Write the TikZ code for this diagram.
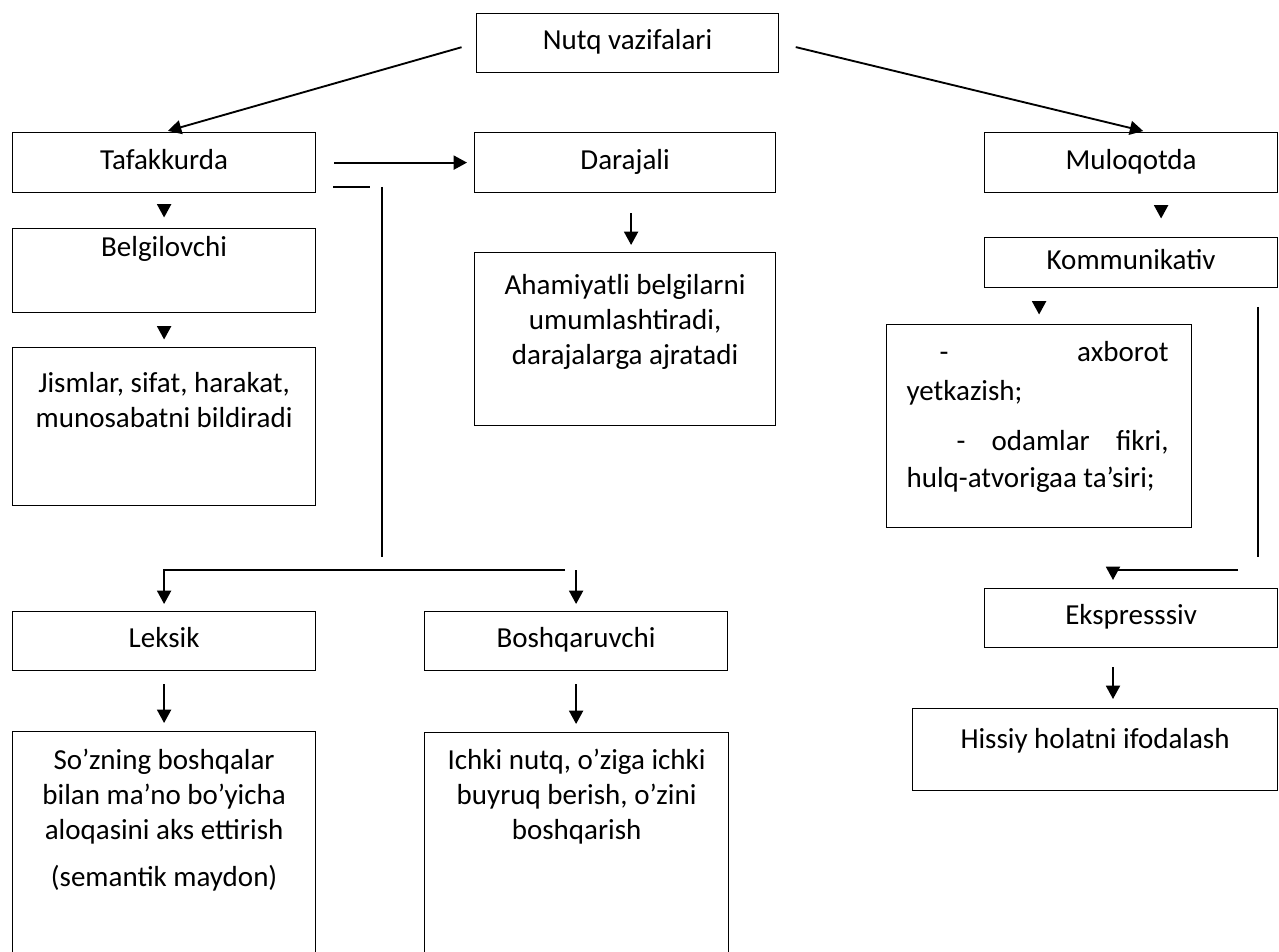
\documentclass[tikz,border=0pt]{standalone}
\usepackage{fontspec}
\setmainfont{Carlito}
\usetikzlibrary{arrows.meta}
\usetikzlibrary{positioning}
\newlength{\pxu}
\setlength{\pxu}{0.75pt}
\newcommand{\topbox}[4]{\parbox[c][#2\pxu][t]{#1\pxu}{\centering\vspace*{#3\pxu}\strut #4\par}}
\tikzset{
  box/.style={draw, line width=0.9pt, inner sep=0pt, anchor=north west},
  sbox/.style={box, text height=15pt, text depth=5pt},
  ln/.style={line width=1.4pt},
  arr/.style={ln, -{Triangle[width=10.5pt,length=10pt]}}
}

\begin{document}
\begin{tikzpicture}[x=0.75pt, y=-0.75pt, font=\fontsize{21.75}{26.25}\selectfont]
\clip (0,0) rectangle (1279,952);
\fill[white] (0,0) rectangle (1279,952);
\node[sbox, minimum width=302\pxu, minimum height=59\pxu] (nutq) at (476,13) {Nutq vazifalari};
\node[sbox, minimum width=303\pxu, minimum height=60\pxu] (taf) at (12,132) {Tafakkurda};
\node[sbox, minimum width=301\pxu, minimum height=60\pxu] (dar) at (474,132) {Darajali};
\node[sbox, minimum width=293\pxu, minimum height=60\pxu] (mul) at (984,132) {Muloqotda};
\node[sbox, minimum width=293\pxu, minimum height=50\pxu] (komm) at (984,237) {Kommunikativ};
\node[sbox, minimum width=293\pxu, minimum height=59\pxu] (eksp) at (984,588) {Ekspresssiv};
\node[sbox, minimum width=303\pxu, minimum height=59\pxu] (leks) at (12,611) {Leksik};
\node[sbox, minimum width=303\pxu, minimum height=59\pxu] (bosh) at (424,611) {Boshqaruvchi};
\node[box] (belg) at (12,228) {\topbox{303}{84}{3}{Belgilovchi}};
\node[box] (jism) at (12,347) {\topbox{303}{158}{20}{Jismlar, sifat, harakat,\\ munosabatni bildiradi}};
\node[box] (aham) at (474,252) {\topbox{301}{173}{17}{Ahamiyatli belgilarni\\ umumlashtiradi,\\ darajalarga ajratadi}};
\node[box] (hiss) at (912,708) {\topbox{365}{82}{15}{Hissiy holatni ifodalash}};
\node[box] (soz) at (12,731) {\topbox{303}{240}{13.5}{So’zning boshqalar\\ bilan ma’no bo’yicha\\ aloqasini aks ettirish\\[12\pxu] (semantik maydon)}};
\node[box] (ichki) at (424,732) {\topbox{304}{240}{12.5}{Ichki nutq, o’ziga ichki\\ buyruq berish, o’zini\\ boshqarish}};
\node[box] (axb) at (886,324) {\parbox[c][203\pxu][t]{305\pxu}{\leftskip=20\pxu \rightskip=23\pxu
  \vspace*{12\pxu}\strut\hspace*{33\pxu}-\hfill axborot\\[4\pxu]
  yetkazish;\\[15\pxu]
  \strut\hspace*{50\pxu}-\hfill odamlar\hfill fikri,\\[2\pxu]
  hulq-atvorigaa ta’siri;\par}};
\draw[arr, shorten <=15\pxu, shorten >=4\pxu] (nutq.west) -- (taf.north);
\draw[arr, shorten <=17\pxu, shorten >=4\pxu] (nutq.east) -- ([xshift=16\pxu]mul.north);
\draw[arr, shorten <=18\pxu, shorten >=7\pxu] (taf.east) -- (dar.west);
\draw[arr, shorten <=12\pxu, shorten >=10.5\pxu] (taf.south) -- (belg.north);
\draw[arr, shorten <=14\pxu, shorten >=7.5\pxu] (belg.south) -- (jism.north);
\draw[arr, shorten <=20\pxu, shorten >=7\pxu] ([xshift=6\pxu]dar.south) -- ([xshift=6\pxu]aham.north);
\draw[arr, shorten <=13\pxu, shorten >=18.5\pxu] ([xshift=30\pxu]mul.south) -- ([xshift=30\pxu]komm.north);
\draw[arr, shorten <=14\pxu, shorten >=9.5\pxu] (axb.north |- komm.south) -- (axb.north);
\draw[ln] (333,187) -- (370,187);
\draw[ln] (382,187) -- (382,557);
\coordinate (fork) at (565,570);
\draw[arr, shorten >=7\pxu] (fork) -| (leks.north);
\draw[arr, shorten >=7\pxu] (bosh.north |- fork) -- (bosh.north);
\draw[arr, shorten <=13\pxu, shorten >=8\pxu] (leks.south) -- (soz.north);
\draw[arr, shorten <=13\pxu, shorten >=8\pxu] (bosh.south) -- (bosh.south |- ichki.north);
\draw[ln] (1258,307) -- (1258,557);
\coordinate (ekin) at (1113,570);
\draw[ln] (1238,570) -- (ekin);
\draw[arr, shorten >=8\pxu] (ekin) -- (ekin |- eksp.north);
\draw[arr, shorten <=19\pxu, shorten >=9\pxu] (eksp.south -| ekin) -- (hiss.north -| ekin);
\end{tikzpicture}
\end{document}
